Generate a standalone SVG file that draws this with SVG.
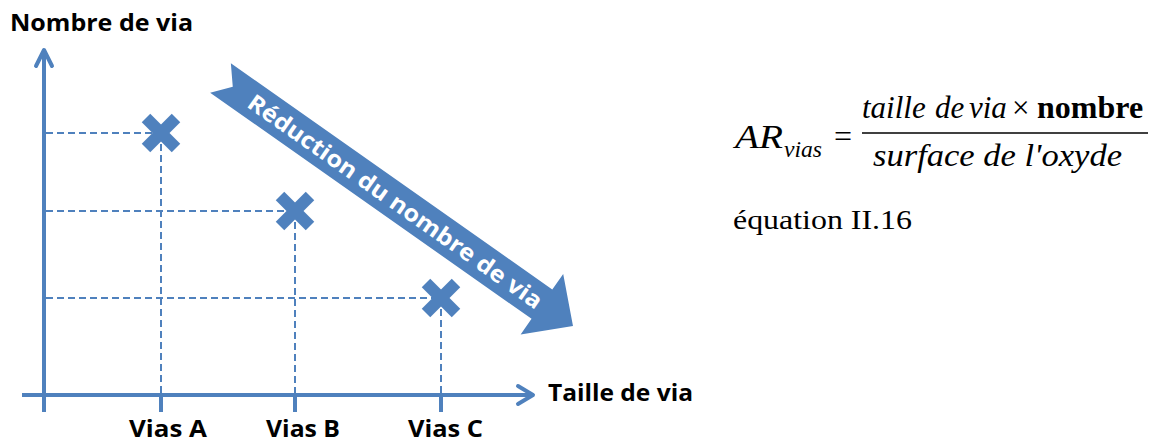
<svg xmlns="http://www.w3.org/2000/svg" width="1155" height="443" viewBox="0 0 1155 443">
<style>
.axis{stroke:#4F81BD;stroke-width:4;fill:none;stroke-linecap:round;stroke-linejoin:round}
.tick{stroke:#4F81BD;stroke-width:4;fill:none}
.dash{stroke:#4F81BD;stroke-width:2;fill:none;stroke-dasharray:7,4}
.cross{stroke:#4F81BD;stroke-width:12;fill:none}
.lbl{font-family:"Open Sans","Liberation Sans",sans-serif;font-weight:bold;font-size:24px;fill:#000}
.math{font-family:"Liberation Serif","Times New Roman",serif;fill:#000}
</style>
<rect width="1155" height="443" fill="#fff"/>
<g id="connectors">
<line class="dash" x1="46" y1="133" x2="161" y2="133"/>
<line class="dash" x1="46" y1="211" x2="295" y2="211"/>
<line class="dash" x1="46" y1="298" x2="441" y2="298"/>
<line class="dash" x1="161" y1="133" x2="161" y2="393"/>
<line class="dash" x1="295" y1="211" x2="295" y2="393"/>
<line class="dash" x1="441" y1="298" x2="441" y2="393"/>
</g>
<g id="y-axis">
<line class="tick" x1="44" y1="52" x2="44" y2="412"/>
<polyline class="axis" points="36,66 44,50 52,66"/>
<text class="lbl" x="10" y="31" textLength="183" lengthAdjust="spacingAndGlyphs">Nombre de via</text>
</g>
<g id="x-axis">
<line class="tick" x1="22" y1="395" x2="531" y2="395"/>
<polyline class="axis" points="518,386 533,395 518,404"/>
<line class="tick" x1="161" y1="395" x2="161" y2="412"/>
<line class="tick" x1="295" y1="395" x2="295" y2="412"/>
<line class="tick" x1="441" y1="395" x2="441" y2="412"/>
<text class="lbl" x="548" y="401" textLength="145" lengthAdjust="spacingAndGlyphs">Taille de via</text>
</g>
<g id="vias-a">
<g class="cross" transform="translate(161,133)"><line x1="-15" y1="-15" x2="15" y2="15"/><line x1="-15" y1="15" x2="15" y2="-15"/></g>
<text class="lbl" x="129" y="437" textLength="78" lengthAdjust="spacingAndGlyphs">Vias A</text>
</g>
<g id="vias-b">
<g class="cross" transform="translate(295,211)"><line x1="-15" y1="-15" x2="15" y2="15"/><line x1="-15" y1="15" x2="15" y2="-15"/></g>
<text class="lbl" x="266" y="437" textLength="74" lengthAdjust="spacingAndGlyphs">Vias B</text>
</g>
<g id="vias-c">
<g class="cross" transform="translate(441,298)"><line x1="-15" y1="-15" x2="15" y2="15"/><line x1="-15" y1="15" x2="15" y2="-15"/></g>
<text class="lbl" x="408" y="437" textLength="75" lengthAdjust="spacingAndGlyphs">Vias C</text>
</g>
<g id="reduction-arrow" transform="translate(220.5,78) rotate(35.13)">
<path d="M0,-18 L393,-18 L393,-37 L431,0 L393,37 L393,18 L0,18 L15,0 Z" fill="#4F81BD"/>
<text x="214" y="8.5" text-anchor="middle" font-family="Open Sans, Liberation Sans, sans-serif" font-weight="bold" font-size="23" fill="#fff" textLength="354" lengthAdjust="spacingAndGlyphs">Réduction du nombre de via</text>
</g>
<g id="equation">
<text class="math" x="735" y="148" font-size="33" font-style="italic" textLength="48" lengthAdjust="spacingAndGlyphs">AR</text>
<text class="math" x="784" y="157" font-size="24" font-style="italic" textLength="38" lengthAdjust="spacingAndGlyphs">vias</text>
<text class="math" x="834" y="147" font-size="32">=</text>
<line x1="862" y1="133" x2="1148" y2="133" stroke="#000" stroke-width="1.6"/>
<text class="math" font-size="31" y="118"><tspan x="862" font-style="italic">taille</tspan><tspan x="935" font-style="italic">de</tspan><tspan x="969" font-style="italic">via</tspan><tspan x="1012">×</tspan><tspan x="1037" font-weight="bold" font-size="32">nombre</tspan></text>
<text class="math" x="873" y="166" font-size="31" font-style="italic" textLength="249" lengthAdjust="spacingAndGlyphs">surface de l'oxyde</text>
<text class="math" x="733" y="229" font-size="28" textLength="179" lengthAdjust="spacingAndGlyphs">équation II.16</text>
</g>
</svg>
